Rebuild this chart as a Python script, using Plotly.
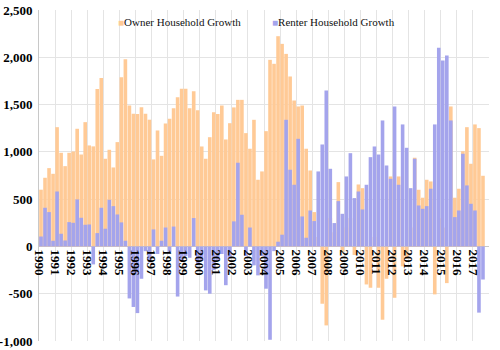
import plotly.graph_objects as go

# ---------------- data ----------------
years = list(range(1990, 2018))
quarters = [f"{y}Q{q}" for y in years for q in range(1, 5)][:111]

owner = [
    600, 726, 828, 768,      # 1990
    1261, 990, 849, 990,     # 1991
    1004, 1244, 972, 1314,   # 1992
    1068, 1058, 1665, 1780,  # 1993
    927, 1022, 835, 1103,    # 1994
    1790, 1980, 1490, 1402,  # 1995
    1400, 1472, 1402, 1340,  # 1996
    920, 1226, 958, 1300,    # 1997
    1350, 1460, 1578, 1667,  # 1998
    1667, 1460, 1642, 1440,  # 1999
    1057, 927, 1155, 1420,   # 2000
    1400, 1490, 1131, 1303,  # 2001
    1470, 1550, 1550, 1198,  # 2002
    1033, 1339, 705, 793,    # 2003
    1219, 1973, 1931, 2223,  # 2004
    2142, 2036, 1797, 1543,  # 2005
    1480, 1490, 1033, 803,   # 2006
    363, 100, -606, -835,    # 2007
    300, 150, 680, -60,      # 2008
    200, 300, -90, 655,      # 2009
    616, -402, -437, 100,    # 2010
    -437, -775, -342, 740,   # 2011
    -543, 740, -211, -130,   # 2012
    200, 938, 599, 515,      # 2013
    705, 687, -507, 300,     # 2014
    200, -388, 1480, 515,    # 2015
    610, 1007, 1261, 874,    # 2016
    1290, 1251, 747,         # 2017
]

renter = [
    105, 409, 363, 60,       # 1990
    581, 134, 63, 257,       # 1991
    250, 497, 303, 229,      # 1992
    232, -190, 141, 409,     # 1993
    187, 493, 426, 338,      # 1994
    254, 60, -550, -640,     # 1995
    -705, -342, -50, -170,   # 1996
    180, -80, 60, 200,       # 1997
    -60, 210, -530, -150,    # 1998
    -100, -120, 300, -200,   # 1999
    -150, -465, -500, -250,  # 2000
    -150, -80, -410, -120,   # 2001
    265, 885, 335, -100,     # 2002
    200, -200, -306, -100,   # 2003
    -447, -987, -50, 50,     # 2004
    124, 1339, 811, 652,     # 2005
    1138, 317, 92, 380,      # 2006
    268, 793, 1078, 1650,    # 2007
    821, 247, 479, 345,      # 2008
    740, 986, 511, 581,      # 2009
    391, 652, 944, 1057,     # 2010
    972, 1332, 856, 715,     # 2011
    1480, 652, 1290, 1043,   # 2012
    616, 927, 433, 398,      # 2013
    426, 610, 1290, 2100,    # 2014
    1966, 2019, 1332, 310,   # 2015
    380, 980, 645, 451,      # 2016
    380, -700, -350,         # 2017
]

y_ticks = [-1000, -500, 0, 500, 1000, 1500, 2000, 2500]
y_tick_text = ["-1,000", "-500", "0", "500", "1,000", "1,500", "2,000", "2,500"]
series_names = ["Owner Household Growth", "Renter Household Growth"]
series_colors = ["#FFCA96", "#A4A4EC"]

# quarter -> decimal year position (centre of quarter)
x = [int(q[:4]) + (int(q[-1]) - 1) * 0.25 + 0.125 for q in quarters]

fig = go.Figure()
for name, vals, col in zip(series_names, [owner, renter], series_colors):
    fig.add_trace(go.Bar(
        x=x, y=vals, name=name, width=0.25 * 0.9,
        marker=dict(color=col, line=dict(width=0)),
        showlegend=False,
    ))

# legend drawn as text annotations with coloured squares
legend_x = [0.173, 0.516]
for name, col, lx in zip(series_names, series_colors, legend_x):
    fig.add_annotation(
        xref="paper", yref="paper", x=lx, y=0.964, xanchor="left", yanchor="middle",
        text=f'<span style="color:{col};font-size:10px">■</span>{name}', showarrow=False,
        font=dict(family="Liberation Serif", size=11, color="#111"),
        borderpad=0,
    )

tick_years = years + [2018]
fig.update_layout(
    width=500, height=350,
    margin=dict(l=39, r=11, t=10, b=9),
    paper_bgcolor="white", plot_bgcolor="white",
    barmode="overlay",
    xaxis=dict(
        range=[1990, 2018],
        tickvals=tick_years,
        ticktext=[str(y) for y in years] + [""],
        tickangle=90,
        showgrid=True, gridcolor="#E4E4E4", gridwidth=1,
        anchor="free", position=1000 / 3500,
        showline=False, zeroline=False, ticks="",
        tickfont=dict(family="Liberation Serif", size=13, color="black", weight="bold"),
        ticklabelstandoff=2,
        automargin=False,
    ),
    yaxis=dict(
        range=[-1000, 2500],
        tickvals=y_ticks, ticktext=y_tick_text,
        showgrid=True, gridcolor="#E4E4E4", gridwidth=1,
        zeroline=True, zerolinecolor="#C8C8C8", zerolinewidth=1,
        showline=True, linecolor="#C8C8C8", linewidth=1,
        ticks="",
        tickfont=dict(family="Liberation Serif", size=13, color="black", weight="bold"),
        ticklabelstandoff=3,
        automargin=False,
    ),
)

fig.write_html("out.html")
